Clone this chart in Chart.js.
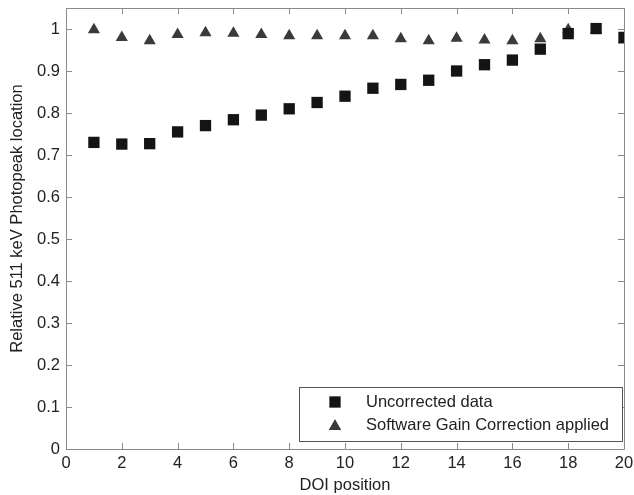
<!DOCTYPE html>
<html>
<head>
<meta charset="utf-8">
<script src="https://cdn.jsdelivr.net/npm/chart.js@4.4.1/dist/chart.umd.min.js"></script>
<style>
  html, body { margin: 0; padding: 0; background: #fff; }
  #wrap { width: 634px; height: 495px; }
</style>
</head>
<body>
<div id="wrap"><canvas id="c" width="634" height="495"></canvas></div>
<script>
// DOI positions along the crystal
const doiPositions = [1, 2, 3, 4, 5, 6, 7, 8, 9, 10, 11, 12, 13, 14, 15, 16, 17, 18, 19, 20];

// Relative 511 keV photopeak location, raw
const uncorrected = [0.730, 0.726, 0.727, 0.755, 0.770, 0.784, 0.795, 0.810, 0.825, 0.840,
                     0.859, 0.868, 0.878, 0.900, 0.915, 0.926, 0.952, 0.989, 1.001, 0.980];

// Relative 511 keV photopeak location after software gain correction
const gainCorrected = [0.998, 0.980, 0.972, 0.987, 0.991, 0.990, 0.987, 0.984, 0.984, 0.984,
                       0.984, 0.977, 0.972, 0.978, 0.974, 0.972, 0.977, 0.998, 0.998, 0.974];

const seriesNames = ['Uncorrected data', 'Software Gain Correction applied'];
const xTicks = [0, 2, 4, 6, 8, 10, 12, 14, 16, 18, 20];
const yTicks = [0, 0.1, 0.2, 0.3, 0.4, 0.5, 0.6, 0.7, 0.8, 0.9, 1.0];
const yTitle = 'Relative 511 keV Photopeak location';
const xTitle = 'DOI position';

const FONT = '"Liberation Sans", Arial, Helvetica, sans-serif';
const FONT_SIZE = 16.5;
const AXIS_COLOR = '#8a8a8a';
const TEXT_COLOR = '#222';

function toPoints(xs, ys) { return xs.map((x, i) => ({ x: x, y: ys[i] })); }

// Box around the plot with inward tick marks on all four sides
const boxAxes = {
  id: 'boxAxes',
  afterDatasetsDraw(chart) {
    const { ctx, chartArea: a, scales } = chart;
    const tl = 6;
    ctx.save();
    ctx.strokeStyle = AXIS_COLOR;
    ctx.lineWidth = 1;
    ctx.beginPath();
    ctx.rect(Math.round(a.left) + 0.5, Math.round(a.top) + 0.5,
             Math.round(a.right - a.left), Math.round(a.bottom - a.top));
    xTicks.forEach(v => {
      const px = Math.round(scales.x.getPixelForValue(v)) + 0.5;
      ctx.moveTo(px, a.bottom); ctx.lineTo(px, a.bottom - tl);
      ctx.moveTo(px, a.top); ctx.lineTo(px, a.top + tl);
    });
    yTicks.forEach(v => {
      const py = Math.round(scales.y.getPixelForValue(v)) + 0.5;
      ctx.moveTo(a.left, py); ctx.lineTo(a.left + tl, py);
      ctx.moveTo(a.right, py); ctx.lineTo(a.right - tl, py);
    });
    ctx.stroke();
    ctx.restore();
  }
};

// Rotated title along the left axis
const leftTitle = {
  id: 'leftTitle',
  afterDraw(chart) {
    const { ctx, chartArea: a } = chart;
    ctx.save();
    ctx.translate(17, (a.top + a.bottom) / 2 - 10);
    ctx.rotate(-Math.PI / 2);
    ctx.fillStyle = TEXT_COLOR;
    ctx.font = FONT_SIZE + 'px ' + FONT;
    ctx.textAlign = 'center';
    ctx.textBaseline = 'middle';
    ctx.fillText(yTitle, 0, 0);
    ctx.restore();
  }
};

// Legend box in the lower right corner of the plot
const insetLegend = {
  id: 'insetLegend',
  afterDraw(chart) {
    const { ctx, chartArea: a } = chart;
    const w = 323, h = 54;
    const x0 = Math.round(a.right - 2 - w), y0 = Math.round(a.bottom - 8 - h);
    ctx.save();
    ctx.fillStyle = '#fff';
    ctx.fillRect(x0, y0, w, h);
    ctx.strokeStyle = '#555';
    ctx.lineWidth = 1;
    ctx.strokeRect(x0 + 0.5, y0 + 0.5, w, h);
    chart.data.datasets.forEach((ds, i) => {
      const cy = y0 + 15 + i * 23;
      Chart.helpers.drawPoint(ctx, {
        pointStyle: ds.pointStyle, radius: ds.pointRadius, rotation: 0, borderWidth: 0
      }, x0 + 36, cy + (ds.pointStyle === 'triangle' ? 1.5 : 0));
      ctx.fillStyle = ds.backgroundColor;
      ctx.fill();
      ctx.fillStyle = TEXT_COLOR;
      ctx.font = FONT_SIZE + 'px ' + FONT;
      ctx.textBaseline = 'middle';
      ctx.textAlign = 'left';
      ctx.fillText(ds.label, x0 + 67, cy);
    });
    ctx.restore();
  }
};

new Chart(document.getElementById('c'), {
  type: 'scatter',
  data: {
    datasets: [
      {
        label: seriesNames[0],
        data: toPoints(doiPositions, uncorrected),
        pointStyle: 'rect',
        pointRadius: 8,
        backgroundColor: '#141414',
        borderColor: '#141414',
        borderWidth: 0
      },
      {
        label: seriesNames[1],
        data: toPoints(doiPositions, gainCorrected),
        pointStyle: 'triangle',
        pointRadius: 7,
        backgroundColor: '#3a3a3a',
        borderColor: '#3a3a3a',
        borderWidth: 0
      }
    ]
  },
  options: {
    responsive: false,
    animation: false,
    devicePixelRatio: 1,
    layout: { padding: { left: 0, top: 8, right: 10, bottom: 0 } },
    plugins: { legend: { display: false }, tooltip: { enabled: false } },
    scales: {
      x: {
        type: 'linear',
        min: 0, max: 20,
        afterBuildTicks: s => { s.ticks = xTicks.map(v => ({ value: v })); },
        afterFit: s => { s.height = 46; s.paddingLeft = 0; s.paddingRight = 0; },
        grid: { display: false, drawTicks: false },
        border: { display: false },
        ticks: {
          color: TEXT_COLOR, padding: 5, maxRotation: 0,
          font: { family: FONT, size: FONT_SIZE },
          callback: v => String(v)
        },
        title: {
          display: true, text: xTitle, color: TEXT_COLOR,
          font: { family: FONT, size: FONT_SIZE }, padding: { top: 0, bottom: 0 }
        }
      },
      y: {
        type: 'linear',
        min: 0, max: 1.05,
        afterBuildTicks: s => { s.ticks = yTicks.map(v => ({ value: v })); },
        afterFit: s => { s.width = 66; s.paddingTop = 0; s.paddingBottom = 0; },
        grid: { display: false, drawTicks: false },
        border: { display: false },
        ticks: {
          color: TEXT_COLOR, padding: 6,
          font: { family: FONT, size: FONT_SIZE },
          callback: v => String(Math.round(v * 10) / 10)
        },
        title: { display: false }
      }
    }
  },
  plugins: [boxAxes, leftTitle, insetLegend]
});
</script>
</body>
</html>
